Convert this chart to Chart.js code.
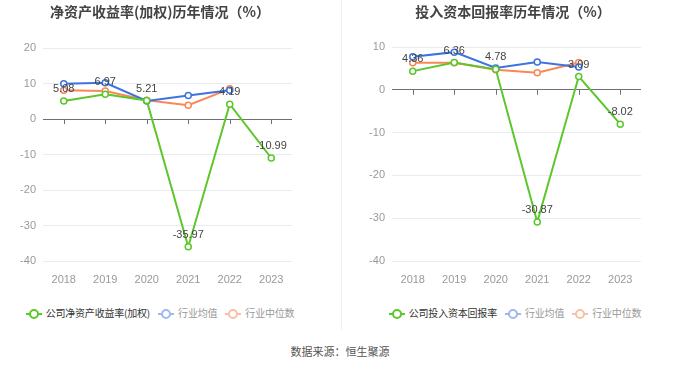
<!DOCTYPE html>
<html>
<head>
<meta charset="utf-8">
<script src="https://cdn.jsdelivr.net/npm/chart.js@4/dist/chart.umd.min.js"></script>
<style>
body{margin:0;background:#fff;font-family:"Liberation Sans","Noto Sans CJK SC",sans-serif;}
#wrap{position:relative;width:680px;height:367px;overflow:hidden;}
.box{position:absolute;top:0;width:340px;height:290px;}
.title{position:absolute;top:1px;width:340px;text-align:center;font-family:"Noto Sans CJK SC",sans-serif;font-weight:bold;font-size:14px;color:#444;}
.legend{position:absolute;top:303px;width:340px;text-align:center;font-family:"Noto Sans CJK SC",sans-serif;font-size:10px;white-space:nowrap;letter-spacing:-0.2px;}
.legend span.it{display:inline-block;margin:0 3px;vertical-align:middle;}
.mk{position:relative;display:inline-block;width:16px;height:10px;vertical-align:middle;margin-right:4px;}
.mk:before{content:"";position:absolute;left:0;right:0;top:4px;height:2px;background:var(--c);}
.mk:after{content:"";position:absolute;left:3px;top:0;width:6px;height:6px;border:2px solid var(--c);border-radius:50%;background:#fff;}
#divider{position:absolute;left:341px;top:0;width:1px;height:330px;background:#f0f0f0;}
#source{position:absolute;top:343px;width:680px;text-align:center;font-family:"Noto Sans CJK SC",sans-serif;font-size:11px;color:#555;}
</style>
</head>
<body>
<div id="wrap">
  <div class="box" style="left:0"><canvas id="roeChart" width="340" height="290"></canvas></div>
  <div class="box" style="left:340px"><canvas id="roicChart" width="340" height="290"></canvas></div>
  <div class="title" style="left:-10px">净资产收益率(加权)历年情况（%）</div>
  <div class="title" style="left:343px">投入资本回报率历年情况（%）</div>
  <div id="divider"></div>
  <div class="legend" style="left:-10px">
    <span class="it" style="color:#333"><span class="mk" style="--c:#5cc72a"></span>公司净资产收益率(加权)</span>
    <span class="it" style="color:#999"><span class="mk" style="--c:#9db9f0"></span>行业均值</span>
    <span class="it" style="color:#999"><span class="mk" style="--c:#fbbfa6"></span>行业中位数</span>
  </div>
  <div class="legend" style="left:345px">
    <span class="it" style="color:#333"><span class="mk" style="--c:#5cc72a"></span>公司投入资本回报率</span>
    <span class="it" style="color:#999"><span class="mk" style="--c:#9db9f0"></span>行业均值</span>
    <span class="it" style="color:#999"><span class="mk" style="--c:#fbbfa6"></span>行业中位数</span>
  </div>
  <div id="source">数据来源：恒生聚源</div>
</div>
<script>
const years = ['2018', '2019', '2020', '2021', '2022', '2023'];

// 净资产收益率(加权)
const roeCompany = [5.08, 6.97, 5.21, -35.97, 4.19, -10.99];
const roeIndustryAvg = [9.9, 10.2, 5.1, 6.6, 8.1, null];
const roeIndustryMedian = [8.1, 7.9, 5.3, 3.9, 8.5, null];

// 投入资本回报率
const roicCompany = [4.36, 6.36, 4.78, -30.87, 3.09, -8.02];
const roicIndustryAvg = [7.7, 8.8, 5.1, 6.5, 5.3, null];
const roicIndustryMedian = [6.3, 6.3, 4.7, 4.0, 6.4, null];

const GREEN = '#5cc72a', BLUE = '#3b74e0', ORANGE = '#fb8656';

// etiquetas de valor sobre la serie de la empresa
const valueLabels = {
    id: 'valueLabels',
    afterDatasetsDraw(chart) {
        const ctx = chart.ctx;
        const meta = chart.getDatasetMeta(0);
        const data = chart.data.datasets[0].data;
        ctx.save();
        ctx.font = '11px "Liberation Sans", sans-serif';
        ctx.fillStyle = '#444';
        ctx.textAlign = 'center';
        ctx.textBaseline = 'middle';
        meta.data.forEach((pt, i) => {
            ctx.fillText(data[i].toFixed(2), pt.x, pt.y - 12);
        });
        ctx.restore();
    }
};

// marcas del eje x sobre la línea del cero
const zeroTicks = {
    id: 'zeroTicks',
    beforeDatasetsDraw(chart) {
        const ctx = chart.ctx;
        const x = chart.scales.x, y = chart.scales.y;
        const y0 = y.getPixelForValue(0);
        ctx.save();
        ctx.strokeStyle = '#6e7079';
        ctx.lineWidth = 1;
        x.ticks.forEach((t, i) => {
            const px = Math.round(x.getPixelForTick(i)) + 0.5;
            ctx.beginPath();
            ctx.moveTo(px, y0);
            ctx.lineTo(px, y0 + 5);
            ctx.stroke();
        });
        ctx.restore();
    }
};

function lineSet(label, data, color) {
    return {
        label: label,
        data: data,
        borderColor: color,
        backgroundColor: '#fff',
        pointBorderColor: color,
        pointBackgroundColor: '#fff',
        pointRadius: 3,
        pointBorderWidth: 1.5,
        borderWidth: 2,
        tension: 0,
        spanGaps: false
    };
}

function makeChart(id, company, avg, median, companyLabel, yMax, padRight) {
    return new Chart(document.getElementById(id), {
        type: 'line',
        data: {
            labels: years,
            datasets: [
                lineSet(companyLabel, company, GREEN),
                lineSet('行业均值', avg, BLUE),
                lineSet('行业中位数', median, ORANGE)
            ]
        },
        options: {
            responsive: false,
            animation: false,
            layout: { padding: { left: 0, right: padRight, top: id === 'roeChart' ? 48 : 47, bottom: 0 } },
            plugins: {
                legend: { display: false },
                title: { display: false },
                tooltip: { enabled: false }
            },
            scales: {
                x: {
                    offset: true,
                    grid: { display: false },
                    border: { display: false },
                    ticks: {
                        color: '#999',
                        padding: 4,
                        font: { size: 11, family: '"Liberation Sans", sans-serif' }
                    },
                    afterFit: (s) => { s.height = 29; }
                },
                y: {
                    min: -40,
                    max: yMax,
                    ticks: {
                        stepSize: 10,
                        color: '#999',
                        padding: 7,
                        font: { size: 11, family: '"Liberation Sans", sans-serif' }
                    },
                    grid: {
                        drawTicks: false,
                        color: (c) => c.tick && c.tick.value === 0 ? '#6e7079' : '#e6ebf5'
                    },
                    border: { display: false },
                    afterFit: (s) => { s.width = id === 'roeChart' ? 43 : 52; }
                }
            }
        },
        plugins: [zeroTicks, valueLabels]
    });
}

makeChart('roeChart', roeCompany, roeIndustryAvg, roeIndustryMedian, '公司净资产收益率(加权)', 20, 48);
makeChart('roicChart', roicCompany, roicIndustryAvg, roicIndustryMedian, '公司投入资本回报率', 10, 39);
</script>
</body>
</html>
